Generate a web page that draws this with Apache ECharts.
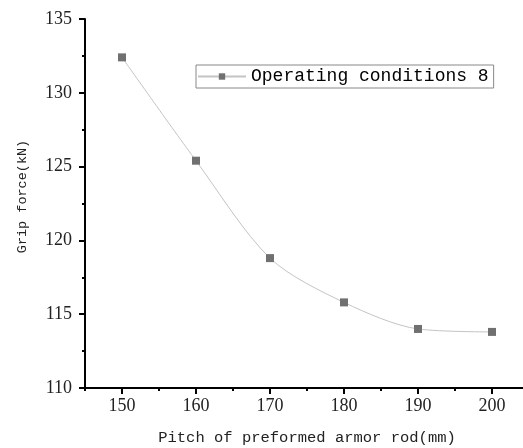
<!DOCTYPE html>
<html>
<head>
<meta charset="utf-8">
<script src="https://cdn.jsdelivr.net/npm/echarts@6/dist/echarts.min.js"></script>
<style>html,body{margin:0;padding:0;background:#fff}#c{width:523px;height:448px}</style>
</head>
<body>
<div id="c"></div>
<script>
var pitch = [150, 160, 170, 180, 190, 200];
var gripForce = [132.4, 125.4, 118.8, 115.8, 114.0, 113.8];
var seriesName = 'Operating conditions 8';
var xMajorTicks = [150, 160, 170, 180, 190, 200];
var xMinorTicks = [145, 155, 165, 175, 185, 195, 205];
var yTicks = [110, 115, 120, 125, 130, 135];

var chart = echarts.init(document.getElementById('c'));
var data = pitch.map(function (p, i) { return [p, gripForce[i]]; });
chart.setOption({
  animation: false,
  backgroundColor: '#fff',
  grid: { left: 85, top: 19, bottom: 60, width: 444, containLabel: false, outerBoundsMode: 'none' },
  legend: {
    left: 196, top: 65,
    data: [seriesName],
    borderColor: '#888', borderWidth: 1, borderRadius: 0,
    padding: [2, 5, 2, 1],
    itemWidth: 48, itemHeight: 8, itemGap: 5,
    textStyle: { fontFamily: 'Liberation Mono', fontSize: 18, color: '#000', lineHeight: 19 }
  },
  xAxis: [{
    type: 'value', min: 145, max: 205,
    name: 'Pitch of preformed armor rod(mm)', nameLocation: 'middle', nameGap: 42,
    nameTextStyle: { fontFamily: 'Liberation Mono', fontSize: 15.5, color: '#222' },
    axisLine: { show: true, lineStyle: { color: '#000', width: 2 } },
    axisTick: { show: true, length: 6, customValues: xMajorTicks, lineStyle: { color: '#000', width: 2 } },
    axisLabel: { customValues: xMajorTicks, margin: 9, fontFamily: 'Liberation Serif', fontSize: 18, color: '#222' },
    splitLine: { show: false }
  }, {
    type: 'value', min: 145, max: 205, position: 'bottom',
    axisLine: { show: false },
    axisTick: { show: true, length: 3, customValues: xMinorTicks, lineStyle: { color: '#000', width: 2 } },
    axisLabel: { show: false },
    splitLine: { show: false }
  }],
  yAxis: {
    type: 'value', min: 110, max: 135, interval: 5,
    name: 'Grip force(kN)', nameLocation: 'middle', nameGap: 56,
    nameTextStyle: { fontFamily: 'Liberation Mono', fontSize: 13.5, color: '#222', padding: [0, 0, 0, 14] },
    axisLine: { show: true, lineStyle: { color: '#000', width: 2 } },
    axisTick: { show: true, length: 6, customValues: yTicks, lineStyle: { color: '#000', width: 2 } },
    minorTick: { show: true, splitNumber: 2, length: 3, lineStyle: { color: '#000', width: 2 } },
    axisLabel: { customValues: yTicks, margin: 13, fontFamily: 'Liberation Serif', fontSize: 18, color: '#222' },
    splitLine: { show: false }
  },
  series: [{
    name: seriesName, type: 'line', xAxisIndex: 0,
    data: data, smooth: 0.3,
    symbol: 'rect', symbolSize: 8,
    itemStyle: { color: '#707070' },
    lineStyle: { color: '#c4c4c4', width: 1 }
  }]
});
</script>
</body>
</html>
